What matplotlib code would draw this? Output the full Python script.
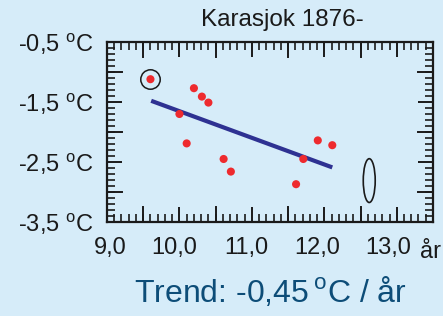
import numpy as np
import matplotlib.pyplot as plt
import matplotlib.transforms as mtransforms
from matplotlib.patches import Ellipse
from matplotlib.ticker import MultipleLocator

plt.rcParams['font.family'] = ['Liberation Sans', 'DejaVu Sans']
plt.rcParams['mathtext.fontset'] = 'custom'
plt.rcParams['mathtext.rm'] = 'Liberation Sans'

# data
tmean = [9.60, 10.20, 10.31, 10.40, 10.00, 10.10, 10.61, 10.71, 11.61, 11.71, 11.91, 12.11]
tmin = [-1.12, -1.27, -1.41, -1.51, -1.70, -2.19, -2.45, -2.66, -2.87, -2.45, -2.14, -2.22]
trend_x = [9.61, 12.11]
trend_y = [-1.48, -2.59]
marked = (9.60, -1.12)
ellipse_c = (12.62, -2.81)

xticks = [9, 10, 11, 12, 13]
xlabels = ['9,0', '10,0', '11,0', '12,0', '13,0']
yticks = [-0.5, -1.5, -2.5, -3.5]
ylabels = ['-0,5 $^{\\rm o}$C', '-1,5 $^{\\rm o}$C', '-2,5 $^{\\rm o}$C', '-3,5 $^{\\rm o}$C']

bg = '#d6ecf9'
fig = plt.figure(figsize=(4.43, 3.16), dpi=100, facecolor=bg)
ax = fig.add_axes([0.2415, 0.2975, 0.7359, 0.5696], facecolor=bg)

ax.plot(trend_x, trend_y, color='#2e3192', lw=3, solid_capstyle='butt', zorder=2)
ax.scatter(tmean, tmin, s=34, color='#ee2a2e', edgecolors='none', zorder=3)
ax.plot(*marked, marker='o', ms=14, mfc='none', mec='#1a1a1a', mew=1.1, zorder=4)
ax.add_patch(Ellipse(ellipse_c, 0.165, 0.73, fill=False, ec='#1a1a1a', lw=1.2))

ax.set_xlim(9, 13.5)
ax.set_ylim(-3.5, -0.5)
ax.set_xticks(xticks)
ax.set_xticklabels(xlabels)
ax.set_yticks(yticks)
ax.set_yticklabels(ylabels)
ax.xaxis.set_minor_locator(MultipleLocator(0.1))
ax.yaxis.set_minor_locator(MultipleLocator(0.1))

# extra major-length ticks at the half steps
for v in np.arange(9.5, 13.5, 1.0):
    ax.axvline(v, ymin=0, ymax=15 / 180, color='#1a1a1a', lw=1.4, zorder=1)
    ax.axvline(v, ymin=1 - 15 / 180, ymax=1, color='#1a1a1a', lw=1.4, zorder=1)
for v in [-1.0, -2.0, -3.0]:
    ax.axhline(v, xmin=0, xmax=15 / 326, color='#1a1a1a', lw=1.4, zorder=1)
    ax.axhline(v, xmin=1 - 15 / 326, xmax=1, color='#1a1a1a', lw=1.4, zorder=1)

ax.tick_params(which='both', direction='in', top=True, right=True, color='#1a1a1a',
               labelsize=17, labelcolor='#1a1a1a')
ax.tick_params(which='major', length=11, width=1.4, pad=11)
ax.tick_params(which='minor', length=5.5, width=1.2)
ax.tick_params(axis='y', pad=10)
for sp in ax.spines.values():
    sp.set_linewidth(1.6)
    sp.set_color('#1a1a1a')

# the x labels sit a little left of their ticks in the original
shifts = [3, -5, -6, -7, -9]
for lab, dx in zip(ax.get_xticklabels(), shifts):
    lab.set_transform(lab.get_transform() + mtransforms.ScaledTranslation(dx / 100, 0, fig.dpi_scale_trans))

fig.text(282 / 443, 1 - 20 / 316, 'Karasjok 1876-', fontsize=17.5, color='#1a1a1a',
         ha='center', va='center')
fig.text(420 / 443, 1 - 252 / 316, 'år', fontsize=17, color='#1a1a1a', ha='left', va='center')
fig.text(270 / 443, 1 - 292 / 316, 'Trend: -0,45$\\,^{\\rm o}$C / år', fontsize=23,
         color='#0d4d78', ha='center', va='center')

fig.savefig('out.png', dpi=100, facecolor=bg)
